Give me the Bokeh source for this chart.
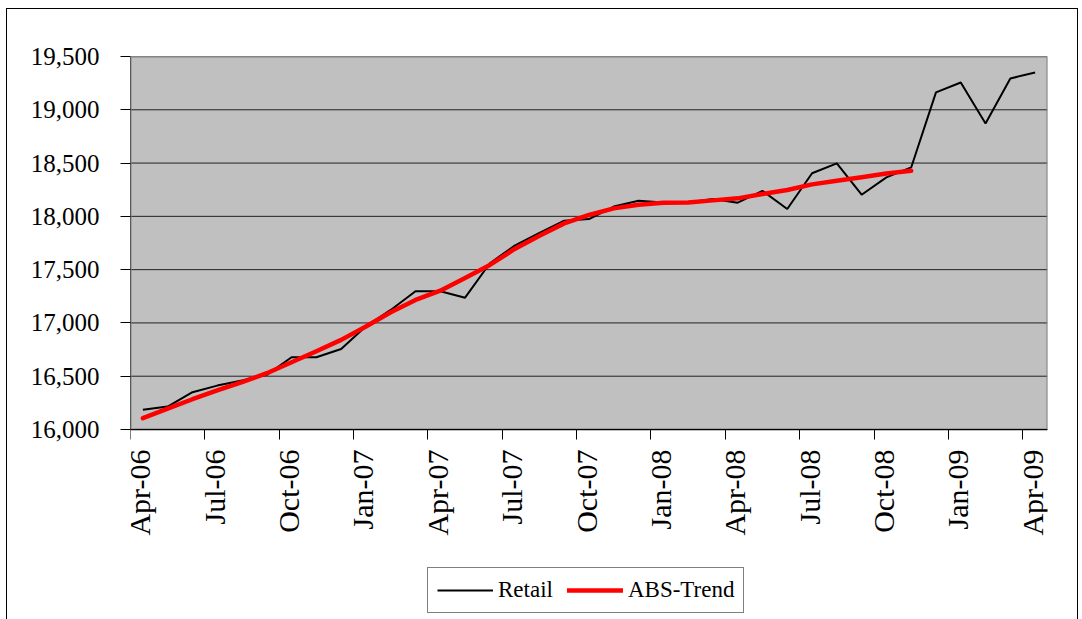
import math
from bokeh.plotting import figure
from bokeh.models import (Range1d, FixedTicker, NumeralTickFormatter, Legend,
                          LegendItem, ColumnDataSource)
from bokeh.embed import file_html
from bokeh.resources import INLINE

months = ["Apr-06", "May-06", "Jun-06", "Jul-06", "Aug-06", "Sep-06", "Oct-06",
          "Nov-06", "Dec-06", "Jan-07", "Feb-07", "Mar-07", "Apr-07", "May-07",
          "Jun-07", "Jul-07", "Aug-07", "Sep-07", "Oct-07", "Nov-07", "Dec-07",
          "Jan-08", "Feb-08", "Mar-08", "Apr-08", "May-08", "Jun-08", "Jul-08",
          "Aug-08", "Sep-08", "Oct-08", "Nov-08", "Dec-08", "Jan-09", "Feb-09",
          "Mar-09", "Apr-09"]

retail = [16185, 16215, 16350, 16412, 16460, 16513, 16678, 16678, 16756, 16968,
          17122, 17297, 17297, 17237, 17560, 17725, 17844, 17959, 17975, 18092,
          18147, 18131, 18131, 18163, 18128, 18240, 18069, 18405, 18497, 18203,
          18366, 18459, 19163, 19256, 18872, 19294, 19350]

abs_trend = [16106, 16195, 16284, 16366, 16444, 16528, 16631, 16734, 16841, 16966,
             17100, 17216, 17303, 17422, 17544, 17694, 17819, 17934, 18013, 18075,
             18109, 18128, 18131, 18150, 18169, 18209, 18247, 18300, 18334, 18366,
             18403, 18428]

tick_labels = ["Apr-06", "Jul-06", "Oct-06", "Jan-07", "Apr-07", "Jul-07", "Oct-07",
               "Jan-08", "Apr-08", "Jul-08", "Oct-08", "Jan-09", "Apr-09"]

y_ticks = [16000, 16500, 17000, 17500, 18000, 18500, 19000, 19500]
Y_MIN, Y_MAX = 16000, 19500

FONT = "Liberation Serif"

# month positions: each month occupies one unit, value drawn mid-month
x_retail = [i + 0.5 for i in range(len(retail))]
x_trend = [i + 0.5 for i in range(len(abs_trend))]
n_months = len(months)

src_r = ColumnDataSource(data=dict(x=x_retail, y=retail, m=months))
src_t = ColumnDataSource(data=dict(x=x_trend, y=abs_trend, m=months[:len(abs_trend)]))

# the frame also spans the white area below the plot (axis labels + legend)
frame_h = 563
px_per_unit = 373.0 / (Y_MAX - Y_MIN)
y_start = Y_MAX - frame_h / px_per_unit

p = figure(frame_width=917, frame_height=frame_h, output_backend="svg",
           toolbar_location=None,
           x_range=Range1d(0, n_months), y_range=Range1d(y_start, Y_MAX),
           min_border_left=123, min_border_right=30, min_border_top=47,
           min_border_bottom=0)
p.styles = {"margin-left": "6px", "margin-top": "8px",
            "border-left": "1px solid black", "border-top": "1px solid black",
            "border-right": "1px solid black"}

p.background_fill_color = "white"
p.border_fill_color = "white"
p.outline_line_color = None

# grey plot area
p.quad(left=0, right=n_months, bottom=Y_MIN, top=Y_MAX,
       fill_color="#C0C0C0", line_color=None)
# horizontal gridlines at the y ticks
p.segment(x0=[0] * len(y_ticks), y0=y_ticks, x1=[n_months] * len(y_ticks), y1=y_ticks,
          line_color="#222222", line_width=1)
# plot-area border: grey top/right, black left axis line
p.quad(left=0, right=n_months, bottom=Y_MIN, top=Y_MAX,
       fill_color=None, line_color="#808080", line_width=2)
p.segment(x0=0, y0=Y_MIN, x1=0, y1=Y_MAX, line_color="black", line_width=1)

r1 = p.line("x", "y", source=src_r, line_color="black", line_width=2)
r2 = p.line("x", "y", source=src_t, line_color="#FF0000", line_width=4.5,
            line_join="round", line_cap="round")

# x axis: tick marks at month boundaries, labels at mid-month
label_pos = [months.index(t) + 0.38 for t in tick_labels]
tick_pos = [months.index(t) for t in tick_labels]
p.xaxis.fixed_location = Y_MIN
p.xaxis.ticker = FixedTicker(ticks=label_pos, minor_ticks=tick_pos)
p.xaxis.major_label_overrides = {pos: lab for pos, lab in zip(label_pos, tick_labels)}
p.xaxis.major_tick_out = 0
p.xaxis.major_tick_in = 0
p.xaxis.minor_tick_out = 10
p.xaxis.minor_tick_in = 0
p.xaxis.minor_tick_line_color = "black"
p.xaxis.major_label_orientation = math.pi / 2
p.xaxis.major_label_standoff = 10
p.xaxis.major_label_text_font = FONT
p.xaxis.major_label_text_font_size = "30px"
p.xaxis.major_label_text_color = "black"
p.xaxis.axis_line_color = "black"

p.yaxis.ticker = FixedTicker(ticks=y_ticks, minor_ticks=[])
p.yaxis.formatter = NumeralTickFormatter(format="0,0")
p.yaxis.major_tick_out = 10
p.yaxis.major_tick_in = 0
p.yaxis.minor_tick_line_color = None
p.yaxis.major_label_standoff = 21
p.yaxis.major_label_text_font = FONT
p.yaxis.major_label_text_font_size = "25px"
p.yaxis.major_label_text_color = "black"
p.yaxis.axis_line_color = None
p.yaxis.major_tick_line_color = "black"

p.xgrid.grid_line_color = None
p.ygrid.grid_line_color = None

legend = Legend(items=[LegendItem(label="Retail", renderers=[r1]),
                       LegendItem(label="ABS-Trend", renderers=[r2])],
                orientation="horizontal", location=(297, 6))
legend.label_text_font = FONT
legend.label_text_font_size = "23px"
legend.label_text_color = "black"
legend.glyph_width = 56
legend.glyph_height = 20
legend.label_standoff = 5
legend.spacing = 14
legend.padding = 9
legend.margin = 0
legend.border_line_color = "black"
legend.border_line_width = 1
legend.background_fill_color = "white"
legend.background_fill_alpha = 1.0
p.add_layout(legend, "center")

open("out.html", "w").write(file_html(p, INLINE))
